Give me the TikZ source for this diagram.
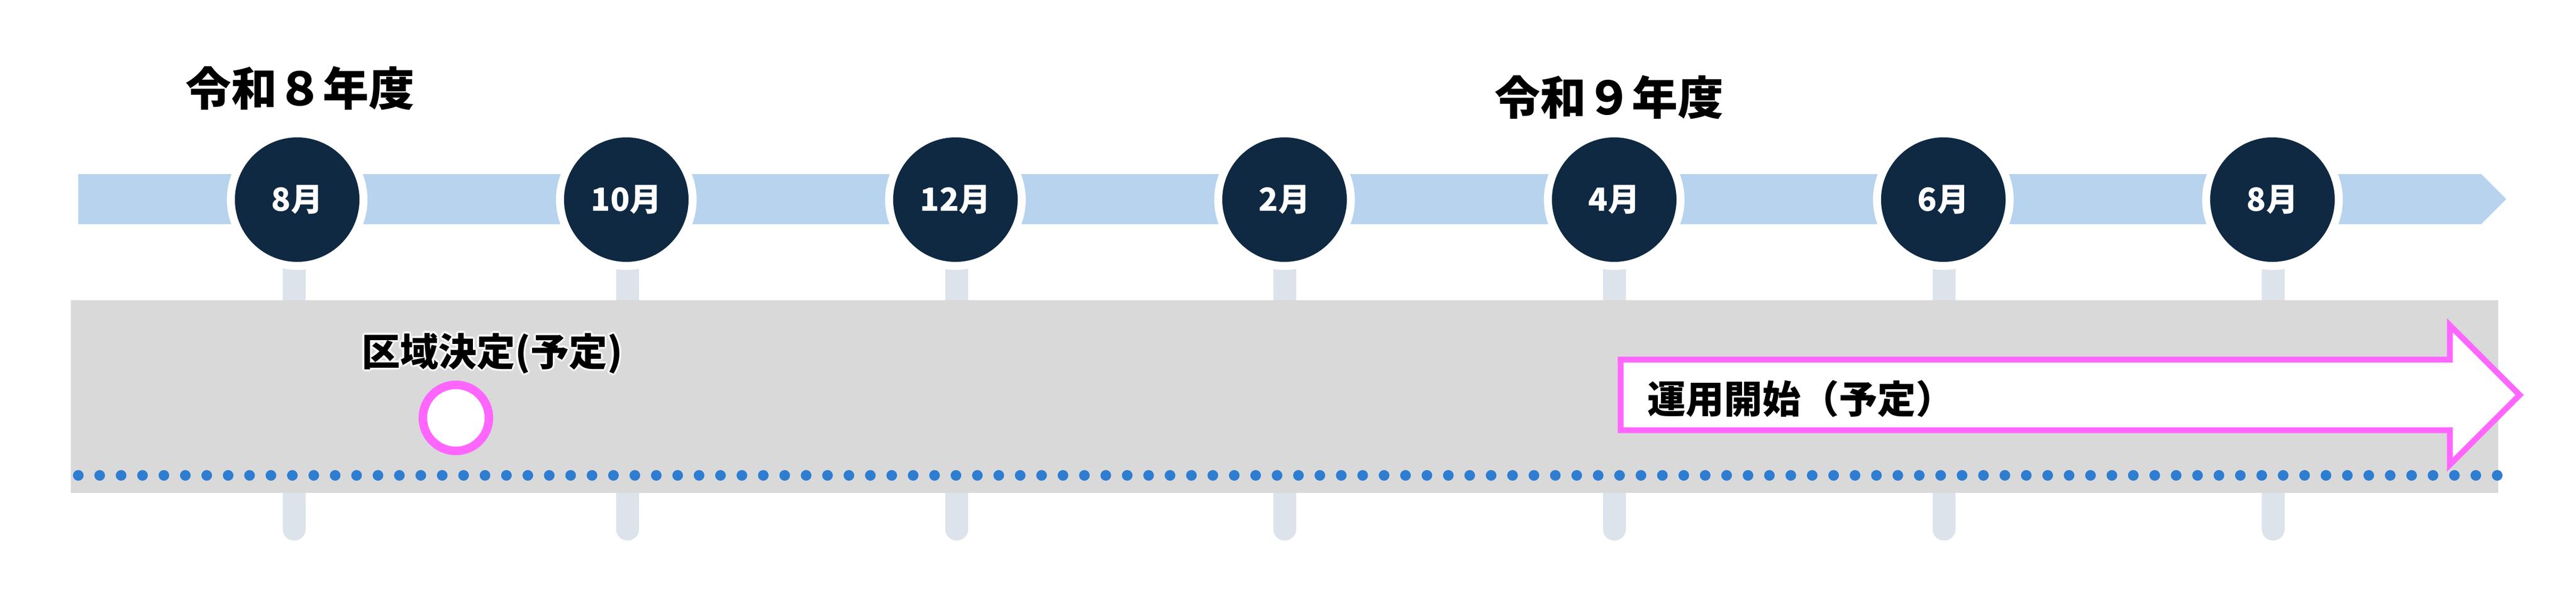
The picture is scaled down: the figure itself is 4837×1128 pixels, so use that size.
\documentclass[tikz,border=0pt]{standalone}
\usepackage{fontspec}
\setmainfont{Noto Sans CJK JP}
\definecolor{navy}{HTML}{0F2942}
\definecolor{barblue}{HTML}{B8D3EE}
\definecolor{tickgray}{HTML}{DDE3EA}
\definecolor{boxgray}{HTML}{D9D9D9}
\definecolor{dotblue}{HTML}{2E7DD1}
\definecolor{pink}{HTML}{FF66FF}
\begin{document}
\begin{tikzpicture}[x=1pt,y=-1pt,
  barshape/.style={fill=barblue},
  tickline/.style={draw=tickgray,line width=43pt,line cap=round},
  month/.style={circle,fill=navy,draw=white,line width=15pt,minimum size=249pt,inner sep=0pt,text=white,
    font=\fontsize{60}{70}\selectfont\bfseries},
  yeartitle/.style={inner sep=0pt,font=\fontsize{86}{100}\selectfont\bfseries},
  eventtext/.style={inner sep=0pt,font=\fontsize{72}{80}\selectfont\bfseries},
  halo/.style={inner sep=0pt,text=white,opacity=0.45,font=\fontsize{72}{80}\selectfont\bfseries},
  bigarrow/.style={draw=pink,fill=white,line width=11pt,line join=miter},
  milestone/.style={circle,draw=pink,fill=white,line width=16pt,minimum size=124pt,inner sep=0pt},
  dot/.style={fill=dotblue}]
\useasboundingbox (0,0) rectangle (4837,1128);
% timeline bar
\fill[barshape] (147,327) -- (4659,327) -- (4706,374) -- (4659,421) -- (147,421) -- cycle;
% tick anchors
\coordinate (tb) at (0,994);
\foreach \i/\x in {1/552,2/1178,3/1796,4/2412,5/3031,6/3650,7/4268}{
  \coordinate (t\i) at (\x,375);
  \draw[tickline] (t\i) -- (t\i |- tb);
}
% month circles
\foreach \i/\x/\m in {1/558/8,2/1176/10,3/1794/12,4/2412/2,5/3031/4,6/3649/6,7/4267/8}{
  \node[month] (m\i) at (\x,375) {\m 月};
}
% years
\node[yeartitle] (y8) at (563,166) {令和８年度};
\node[yeartitle] (y9) at (3021,183) {令和９年度};
% gray band
\fill[boxgray] (133,564) rectangle (4691,926);
% dotted line
\foreach \i in {0,...,113}{
  \fill[dot] ({147+\i*40.195},893) circle (10);
}
% milestone
\node[milestone] (ms) at (856,785) {};
\foreach \a in {0,30,...,330}{
  \node[halo,shift={(\a:4pt)}] at (924,664) {区域決定(予定)};
}
\node[eventtext] (ev1) at (924,664) {区域決定(予定)};
% operation arrow
\draw[bigarrow] (3043,675.5) -- (4600,675.5) -- (4600,611) -- (4731,742) -- (4600,873) -- (4600,808) -- (3043,808) -- cycle;
\node[eventtext,anchor=west] (ev2) at (3093,749) {運用開始（予定）};
\end{tikzpicture}
\end{document}
